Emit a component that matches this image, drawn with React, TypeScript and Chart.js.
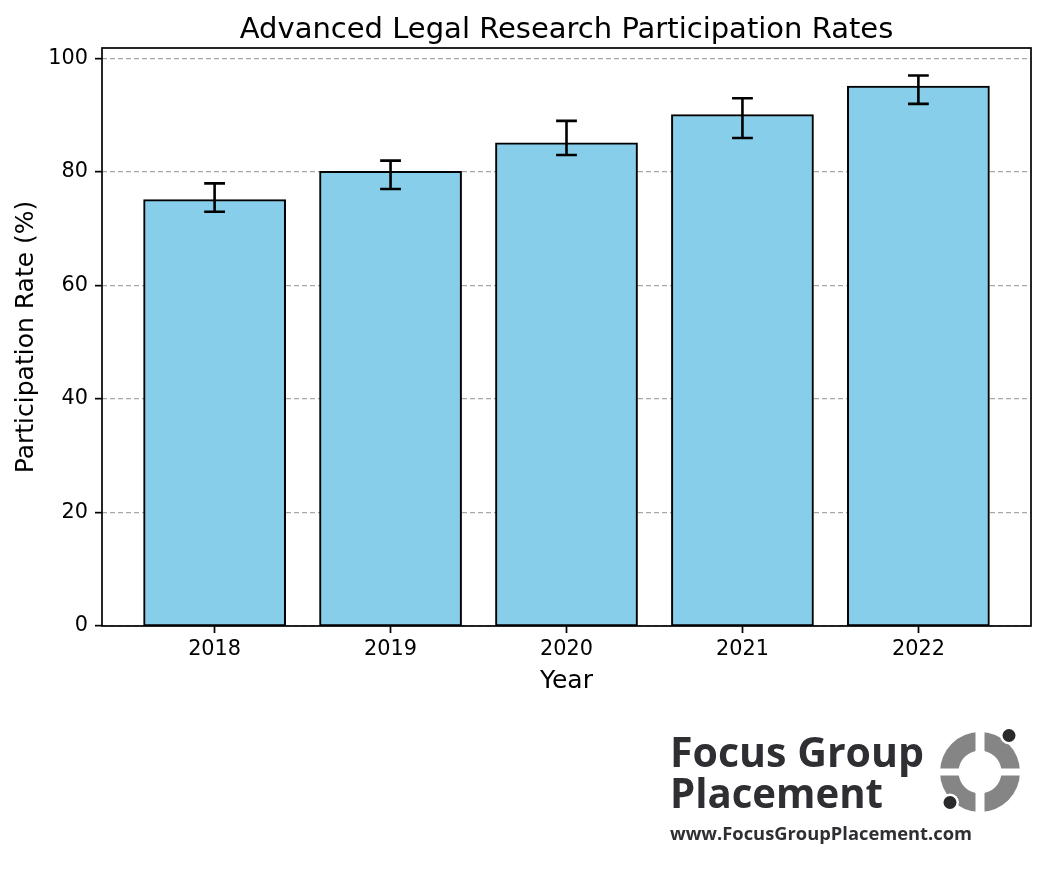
import React, { useEffect, useRef } from 'react';
import { Chart, registerables } from 'chart.js';

Chart.register(...registerables);

// Participation data by year
const years = ['2018', '2019', '2020', '2021', '2022'];
const rates = [75, 80, 85, 90, 95];
const errLow = [2, 3, 2, 4, 3];
const errHigh = [3, 2, 4, 3, 2];
const yTicks = [0, 20, 40, 60, 80, 100];

const chartTitle = 'Advanced Legal Research Participation Rates';
const FONT = "'DejaVu Sans', sans-serif";

// Asymmetric error bars drawn on top of each bar
const errorBarPlugin = {
  id: 'errorBars',
  afterDatasetsDraw(chart: any) {
    const { ctx, scales } = chart;
    const xs = scales.x;
    const ys = scales.y;
    ctx.save();
    ctx.strokeStyle = '#000';
    ctx.lineWidth = 2.6;
    ctx.lineCap = 'butt';
    const cap = 10.4;
    rates.forEach((v, i) => {
      const x = xs.getPixelForValue(i);
      const yLo = ys.getPixelForValue(v - errLow[i]);
      const yHi = ys.getPixelForValue(v + errHigh[i]);
      ctx.beginPath();
      ctx.moveTo(x, yLo);
      ctx.lineTo(x, yHi);
      ctx.moveTo(x - cap, yLo);
      ctx.lineTo(x + cap, yLo);
      ctx.moveTo(x - cap, yHi);
      ctx.lineTo(x + cap, yHi);
      ctx.stroke();
    });
    ctx.restore();
  },
};

// Axes frame around the plotting area, plus the title centred over it
const framePlugin = {
  id: 'frame',
  afterDatasetsDraw(chart: any) {
    const { ctx, chartArea: a } = chart;
    ctx.save();
    ctx.strokeStyle = '#000';
    ctx.lineWidth = 1.7;
    ctx.strokeRect(a.left, a.top, a.right - a.left, a.bottom - a.top);
    ctx.fillStyle = '#000';
    ctx.font = `29px ${FONT}`;
    ctx.textAlign = 'center';
    ctx.textBaseline = 'alphabetic';
    ctx.fillText(chartTitle, (a.left + a.right) / 2, a.top - 10);
    ctx.restore();
  },
};

// Brand mark below the chart
function fitText(ctx: CanvasRenderingContext2D, text: string, x: number, y: number, w: number) {
  const m = ctx.measureText(text).width;
  ctx.save();
  ctx.translate(x, y);
  ctx.scale(w / m, 1);
  ctx.fillText(text, 0, 0);
  ctx.restore();
}

const logoPlugin = {
  id: 'logo',
  afterDraw(chart: any) {
    const ctx: CanvasRenderingContext2D = chart.ctx;
    ctx.save();
    ctx.fillStyle = '#2f2f33';
    ctx.textBaseline = 'alphabetic';
    ctx.textAlign = 'left';
    ctx.font = "700 40.5px 'Open Sans', sans-serif";
    fitText(ctx, 'Focus Group', 670, 766.5, 254);
    fitText(ctx, 'Placement', 670, 807.5, 213);
    ctx.font = "700 18.5px 'Open Sans', sans-serif";
    fitText(ctx, 'www.FocusGroupPlacement.com', 670, 840, 302);

    // ring icon
    const cx = 980;
    const cy = 772;
    ctx.fillStyle = '#858585';
    ctx.beginPath();
    ctx.arc(cx, cy, 40, 0, Math.PI * 2);
    ctx.arc(cx, cy, 21.5, 0, Math.PI * 2, true);
    ctx.fill('evenodd');
    ctx.fillStyle = '#ffffff';
    ctx.fillRect(cx - 4.5, cy - 42, 9, 84);
    ctx.fillRect(cx - 42, cy - 3.5, 84, 7);
    const dots = [
      [1009, 735.5],
      [950, 802.5],
    ];
    dots.forEach(([dx, dy]) => {
      ctx.fillStyle = '#ffffff';
      ctx.beginPath();
      ctx.arc(dx, dy, 9, 0, Math.PI * 2);
      ctx.fill();
      ctx.fillStyle = '#2a2a2d';
      ctx.beginPath();
      ctx.arc(dx, dy, 6.5, 0, Math.PI * 2);
      ctx.fill();
    });
    ctx.restore();
  },
};

export default function App() {
  const ref = useRef<HTMLCanvasElement | null>(null);

  useEffect(() => {
    if (!ref.current) return;
    const chart = new Chart(ref.current, {
      type: 'bar',
      data: {
        datasets: [
          {
            label: 'Participation Rate',
            data: rates.map((v, i) => ({ x: i, y: v })),
            backgroundColor: '#87CEEB',
            borderColor: '#000000',
            borderWidth: 2,
            borderSkipped: false,
            inflateAmount: 1,
            barPercentage: 0.8,
            categoryPercentage: 1.0,
          },
        ],
      },
      options: {
        responsive: false,
        animation: false,
        devicePixelRatio: 1,
        layout: { padding: { left: 0, right: 15, top: 48, bottom: 169 } },
        plugins: {
          legend: { display: false },
          tooltip: { enabled: false },
          title: { display: false },
        },
        scales: {
          x: {
            type: 'linear',
            offset: false,
            min: -0.64,
            max: 4.64,
            afterBuildTicks: (s: any) => {
              s.ticks = years.map((_, i) => ({ value: i }));
            },
            afterFit: (s: any) => {
              s.height = 74;
            },
            ticks: {
              color: '#000',
              font: { family: FONT, size: 20.8 },
              padding: 4.5,
              maxRotation: 0,
              autoSkip: false,
              callback: (v: any) => years[v] ?? '',
            },
            grid: {
              display: true,
              offset: false,
              drawOnChartArea: false,
              drawTicks: true,
              tickLength: 7,
              tickWidth: 1.7,
              tickColor: '#000',
            },
            border: { display: false },
            title: {
              display: true,
              text: 'Year',
              color: '#000',
              font: { family: FONT, size: 25, weight: 'normal' },
              padding: { top: 0, bottom: 4 },
            },
          },
          y: {
            type: 'linear',
            min: 0,
            max: 101.85,
            afterBuildTicks: (s: any) => {
              s.ticks = yTicks.map((v) => ({ value: v }));
            },
            afterFit: (s: any) => {
              s.width = 102;
            },
            ticks: {
              color: '#000',
              font: { family: FONT, size: 20.8 },
              padding: 7,
              callback: (v: any) => String(v),
            },
            grid: {
              display: true,
              drawOnChartArea: true,
              drawTicks: true,
              color: '#a8a8a8',
              lineWidth: 1.3,
              tickLength: 7,
              tickWidth: 1.7,
              tickColor: '#000',
            },
            border: { display: false, dash: [5, 3] },
            title: {
              display: true,
              text: 'Participation Rate (%)',
              color: '#000',
              font: { family: FONT, size: 25, weight: 'normal' },
              padding: { top: 11, bottom: 0 },
            },
          },
        },
      },
      plugins: [errorBarPlugin, framePlugin, logoPlugin],
    } as any);
    return () => chart.destroy();
  }, []);

  return (
    <div style={{ position: 'absolute', left: 0, top: 0, width: 1046, height: 869, background: '#fff' }}>
      <canvas ref={ref} width={1046} height={869} style={{ width: 1046, height: 869, display: 'block' }} />
    </div>
  );
}
